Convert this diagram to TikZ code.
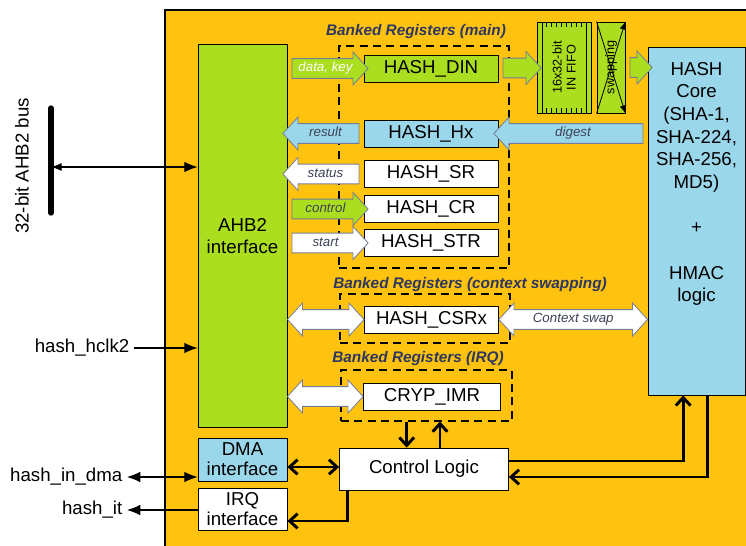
\documentclass[tikz,border=0pt]{standalone}
\usepackage{fontspec}
\setmainfont{Liberation Sans}
\usetikzlibrary{calc,arrows.meta}
\usetikzlibrary{positioning,shapes.arrows,fit}

\definecolor{bgyellow}{RGB}{255,194,14}
\definecolor{hgreen}{RGB}{172,222,32}
\definecolor{hblue}{RGB}{155,215,235}
\definecolor{fatedge}{RGB}{115,125,150}
\definecolor{banktext}{RGB}{45,55,95}
\definecolor{fattext}{RGB}{60,65,85}

% fat arrow between two points: style, from, to, text
\newcommand{\fatlink}[4]{%
  \path let \p1=(#2), \p2=(#3), \n1={veclen(\x2-\x1,\y2-\y1)} in
    node[#1, minimum height=\n1] at ($(\p1)!.5!(\p2)$) {#4};}

\begin{document}
\begin{tikzpicture}[x=0.75pt, y=-0.75pt, font=\fontsize{14}{17}\selectfont,
blk/.style={draw, line width=0.6pt, inner sep=1pt, align=center},
reg/.style={blk, fill=white, minimum width=100.5pt, minimum height=20.25pt},
bank/.style={draw, line width=0.8pt, dash pattern=on 6pt off 4pt, inner sep=0pt},
banklbl/.style={font=\fontsize{11.5}{13}\selectfont\bfseries\itshape, text=banktext},
fatbase/.style={draw=fatedge, line width=0.6pt, inner xsep=1pt, inner ysep=2.6pt,
  text height=7pt, text depth=2pt, text=fattext, font=\fontsize{10}{12}\selectfont\itshape},
fat/.style={fatbase, single arrow, single arrow head extend=5pt, single arrow tip angle=95},
fatback/.style={fat, shape border rotate=180},
fatboth/.style={fatbase, double arrow, fill=white, double arrow head extend=5pt, double arrow tip angle=95},
sig/.style={line width=0.8pt, -{Latex[length=10pt,width=8pt]}},
sigboth/.style={line width=0.8pt, {Latex[length=10pt,width=8pt]}-{Latex[length=10pt,width=8pt]}},
thk/.style={line width=2.2pt, -{Straight Barb[length=6pt,width=11pt]}},
thkboth/.style={line width=2.2pt, {Straight Barb[length=6pt,width=11pt]}-{Straight Barb[length=6pt,width=11pt]}}
]
\useasboundingbox (0,0) rectangle (746,546);
\fill[bgyellow] (165,10) rectangle (746,546);
\draw[line width=0.8pt] (746,10) -- (165,10) -- (165,546);

% banked register groups
\node[bank, fit={(339,46) (509,268)}] (bmain) {};
\node[bank, fit={(340,294) (510,343)}] (bctx) {};
\node[bank, fit={(341,370) (512,421)}] (birq) {};
\node[banklbl] at (416,32) {Banked Registers (main)};
\node[banklbl] at (470,285) {Banked Registers (context swapping)};
\node[banklbl] at (418,359) {Banked Registers (IRQ)};

% blocks
\node[blk, fill=hgreen, minimum width=66.75pt, minimum height=287.25pt] (ahb) at (242.5,236) {AHB2\\interface};
\node[blk, fill=hblue, minimum width=66.75pt, minimum height=32.25pt, font=\fontsize{14}{15}\selectfont] (dma) at (242.5,459.5) {DMA\\interface};
\node[blk, fill=white, minimum width=66.75pt, minimum height=31.5pt, font=\fontsize{14}{15}\selectfont] (irq) at (242.5,509) {IRQ\\interface};
\node[reg, fill=hgreen] (din) at (431,68.5) {HASH\_DIN};
\node[reg, fill=hblue] (hx) at (431,133.5) {HASH\_Hx};
\foreach \n/\y/\t in {sr/174/HASH\_SR, cr/209/HASH\_CR, str/243/HASH\_STR}{\node[reg] (\n) at (431,\y) {\t};}
\node[reg] (csrx) at (431.5,319.5) {HASH\_CSRx};
\node[reg, minimum width=102.75pt] (imr) at (432,396.5) {CRYP\_IMR};
\node[blk, fill=white, minimum width=126.75pt, minimum height=31.5pt] (ctrl) at (424,469) {Control Logic};
\node[blk, fill=hgreen, minimum width=40.5pt, minimum height=68.25pt] (fifo) at (564,67.5) {};
\node[blk, fill=hgreen, minimum width=21pt, minimum height=68.25pt] (swp) at (611,67.5) {};
\node[blk, fill=hblue, minimum width=72.75pt, minimum height=261pt] (core) at (696.5,221) {};
\node[anchor=north, align=center] (coretxt) at ([yshift=-8pt]core.north)
  {HASH\\Core\\(SHA-1,\\SHA-224,\\SHA-256,\\MD5)\\[17pt]+\\[17pt]HMAC\\logic};

% fifo and swapping details
\draw[line width=0.6pt] (542,22) -- (542,113) (586,22) -- (586,113);
\foreach \x in {546,551,...,582}{\draw[line width=0.5pt] (\x,22) -- (\x,27) (\x,108) -- (\x,113);}
\node[rotate=90, align=center, font=\fontsize{9.5}{10.5}\selectfont] (fifotxt) at (fifo) {16x32-bit\\IN FIFO};
\node[rotate=90, font=\fontsize{9.5}{10}\selectfont] (swptxt) at (swp) {swapping};
\foreach \a/\b in {south west/north east, north west/south east}
  {\draw[line width=0.6pt, -{Latex[length=6pt,width=5pt]}] (swp.\a) -- (swp.\b);}

% fat arrows
\fatlink{fat, fill=hgreen, text=white}{ahb.east |- din}{din.west}{data, key}
\fatlink{fatback, fill=hblue}{hx.west}{ahb.east |- hx}{result}
\fatlink{fatback, fill=white}{sr.west}{ahb.east |- sr}{status}
\fatlink{fat, fill=hgreen}{ahb.east |- cr}{cr.west}{control}
\fatlink{fat, fill=white}{ahb.east |- str}{str.west}{start}
\fatlink{fat, fill=hgreen}{din.east}{fifo.west}{}
\fatlink{fat, fill=hgreen}{swp.east}{core.west |- swp}{}
\fatlink{fatback, fill=hblue}{core.west |- hx}{hx.east}{digest}
\fatlink{fatboth}{ahb.east |- csrx}{csrx.west}{}
\fatlink{fatboth}{csrx.east}{core.west |- csrx}{Context swap}
\fatlink{fatboth}{ahb.east |- imr}{imr.west}{}

% control paths
\draw[thk] ([yshift=6pt]ctrl.east) -| ([xshift=-10pt]core.south);
\draw[thk] ([xshift=8pt]core.south) |- ([yshift=-6pt]ctrl.east);
\draw[thk] ([xshift=-13pt]ctrl.north |- birq.south) -- ([xshift=-13pt]ctrl.north);
\draw[thk] ([xshift=12pt]ctrl.north) -- ([xshift=12pt]ctrl.north |- birq.south);
\draw[thkboth] ([yshift=1.5pt]ctrl.west -| dma.east) -- ([yshift=1.5pt]ctrl.west);
\draw[thk] ([xshift=6pt]ctrl.south west) |- ([yshift=-9pt]irq.east);

% external signals
\coordinate (bustop) at (51,108);
\coordinate (busbot) at (51,213);
\coordinate (busmid) at (51,167);
\draw[line width=4pt, line cap=round] (bustop) -- (busbot);
\node[rotate=90] (buslbl) at (22,166) {32-bit AHB2 bus};
\draw[line width=0.8pt, {Latex[length=8pt,width=6pt]}-{Latex[length=10pt,width=8pt]}] (busmid) -- (busmid -| ahb.west);
\node[anchor=east] (clk) at (134,348) {hash\_hclk2};
\draw[sig] (clk) -- (clk -| ahb.west);
\node[anchor=east] (indma) at (127,477) {hash\_in\_dma};
\draw[sigboth] (indma) -- (indma -| dma.west);
\node[anchor=east] (hit) at (127,510) {hash\_it};
\draw[sig] (irq.west |- hit) -- (hit);
\end{tikzpicture}
\end{document}
